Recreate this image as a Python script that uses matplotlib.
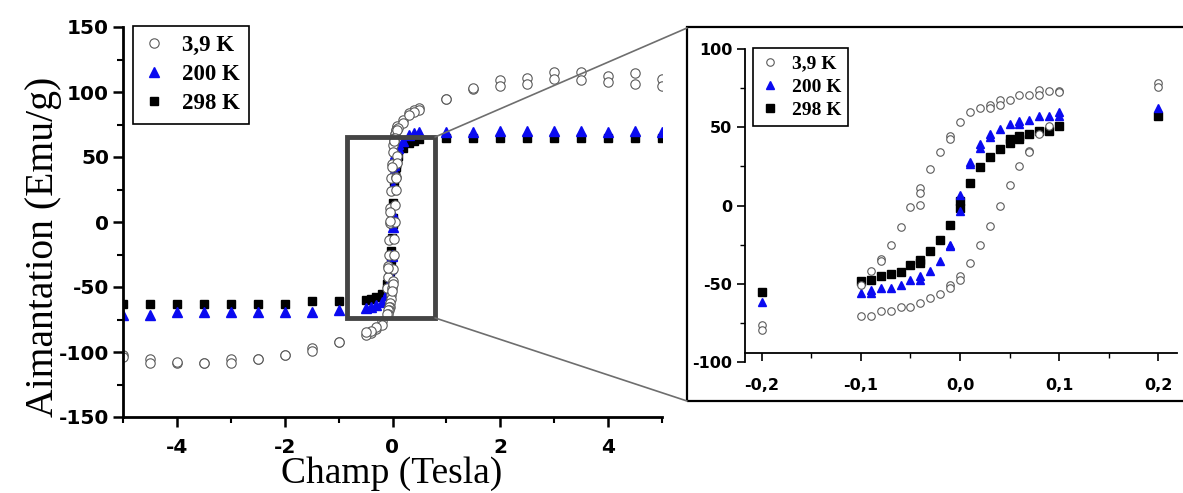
"""
Hysteresis loops M(H) at three temperatures, with a zoom on the low-field region.
"""
import matplotlib
matplotlib.use("Agg")
import matplotlib.pyplot as plt
from matplotlib.patches import Rectangle, ConnectionPatch
from matplotlib.ticker import MultipleLocator, FuncFormatter


# field sweep (Tesla), shared by all the loops
FIELD = [5, 4.5, 4, 3.5, 3, 2.5, 2, 1.5, 1, 0.5, 0.4, 0.3, 0.2,
         0.1, 0.09, 0.08, 0.07, 0.06, 0.05, 0.04, 0.03, 0.02, 0.01, 0.0,
         -0.01, -0.02, -0.03, -0.04, -0.05, -0.06, -0.07, -0.08, -0.09, -0.1,
         -0.2, -0.3, -0.4, -0.5, -1, -1.5, -2, -2.5, -3, -3.5, -4, -4.5, -5]

# 3,9 K : descending and ascending branches (emu/g)
M_39_DOWN = [110, 114.5, 112, 115.5, 115.5, 110.5, 109, 102.5, 94.5, 87.5, 86, 84, 78.5,
             73, 73, 73.5, 70.5, 70.5, 67.5, 67.5, 64.5, 62, 59.5, 53.5,
             44.5, 34, 23.5, 11, -1, -14, -25, -34, -42, -50.5,
             -76.5, -82, -85, -87, -92, -97, -102, -105.5, -105, -108.5, -108.5, -105, -102]
M_39_UP = [105, 106, 108, 109, 110, 106, 104.5, 103, 95, 86, 85, 82, 76,
           72.5, 50.5, 45.5, 35, 25, 12.8, 0, -12.8, -25, -36.5, -45,
           -50.5, -56.5, -59, -62, -65, -65, -67.5, -67.5, -70.5, -70.5,
           -79.5, -81, -84, -84.5, -92.5, -99.5, -102.5, -105, -108.5, -108.5, -108, -108.5, -104]
H_39_EXTRA = [0.08, 0.04, 0.03, -0.01, -0.04, -0.04, -0.08, 0.0, -0.01, 0.07]
M_39_EXTRA = [70.5, 64.5, 62, 42.5, 8, 0.6, -35.7, -47.4, -53, 34]

# 200 K
M_200 = [69, 70, 69.5, 70, 70, 70, 70, 69.5, 69, 69, 68.5, 67, 62.5,
         59.8, 57.2, 57.2, 54.5, 54, 52, 49, 45.5, 39, 28, 6.4,
         -25, -35.7, -41.7, -45, -47.4, -50.6, -52.8, -52.8, -53.8, -56,
         -61.5, -64, -65, -66, -68, -69, -69, -69, -69, -69, -69, -71.5, -71.5]
H_200_EXTRA = [0.1, 0.06, 0.03, 0.02, 0.01, 0.0, -0.01, -0.04, -0.09]
M_200_EXTRA = [57.2, 52, 43.5, 37, 26.3, -3.6, -26, -47.4, -56]

# 298 K
M_298 = [64.5, 64.5, 64.5, 64.5, 64.5, 64.5, 64.5, 64.5, 64.5, 63.5, 62.5, 61, 57,
         50.8, 47.6, 47.6, 45.5, 44.4, 42.3, 36.3, 31.2, 24.6, 14.6, 2.8,
         -12.2, -22, -29.3, -34.6, -37.8, -42.7, -43.6, -44.9, -47.4, -48,
         -55, -57.5, -59, -60, -61, -61, -63, -63, -63, -63, -63, -63, -63]
H_298_EXTRA = [0.06, 0.05, 0.0, -0.04]
M_298_EXTRA = [42.3, 39.7, -1.3, -36.7]

LABELS = ["3,9 K", "200 K", "298 K"]

# zoomed region drawn on the main plot
ZOOM_X = (-0.84, 0.79)
ZOOM_Y = (-73.8, 65.4)

W, H = 1183, 493


def draw(ax, ms):
    lines = {}
    lines["298 K"], = ax.plot(FIELD + H_298_EXTRA, M_298 + M_298_EXTRA, ls="none",
                              marker="s", ms=ms * 0.85, color="black", mec="black")
    lines["200 K"], = ax.plot(FIELD + H_200_EXTRA, M_200 + M_200_EXTRA, ls="none",
                              marker="^", ms=ms, color="#0a0af0", mec="#0a0af0")
    lines["3,9 K"], = ax.plot(FIELD + FIELD + H_39_EXTRA, M_39_DOWN + M_39_UP + M_39_EXTRA,
                              ls="none", marker="o", ms=ms * 0.9, mfc="white",
                              mec="#5a5a5a", mew=0.8)
    return [lines[k] for k in LABELS]


def comma(v, pos):
    return f"{round(v, 1) + 0.0:.1f}".replace(".", ",")


def boxed_legend(fig, handles, anchor, size, **kwargs):
    leg = fig.legend(handles, LABELS, loc="upper left",
                     bbox_to_anchor=anchor, bbox_transform=fig.transFigure,
                     prop={"family": "Liberation Serif", "weight": "bold", "size": size},
                     frameon=True, fancybox=False, edgecolor="black", framealpha=1,
                     borderaxespad=0, handlelength=1.0, **kwargs)
    leg.get_frame().set_linewidth(1.2)
    return leg


if __name__ == "__main__":
    plt.rcParams["axes.unicode_minus"] = False
    plt.rcParams["font.family"] = "DejaVu Sans"
    plt.rcParams["font.weight"] = "bold"

    fig = plt.figure(figsize=(W / 100, H / 100), dpi=100)

    # main plot
    ax = fig.add_axes([123 / W, 1 - 417 / H, (662 - 123) / W, (417 - 27) / H])
    handles = draw(ax, 7.5)
    ax.set_xlim(-5, 5)
    ax.set_ylim(-150, 150)
    for side in ("top", "right"):
        ax.spines[side].set_visible(False)
    for side in ("left", "bottom"):
        ax.spines[side].set_linewidth(2)
    ax.xaxis.set_major_locator(MultipleLocator(2))
    ax.xaxis.set_minor_locator(MultipleLocator(1))
    ax.yaxis.set_major_locator(MultipleLocator(50))
    ax.yaxis.set_minor_locator(MultipleLocator(25))
    ax.tick_params(which="major", direction="out", length=7, width=1.8, labelsize=14.5)
    ax.tick_params(which="minor", direction="out", length=4, width=1.5)
    ax.tick_params(axis="x", pad=8)
    ax.tick_params(axis="y", pad=3)

    ax.add_patch(Rectangle((ZOOM_X[0], ZOOM_Y[0]), ZOOM_X[1] - ZOOM_X[0],
                           ZOOM_Y[1] - ZOOM_Y[0], fill=False, ec="#454545",
                           lw=3.5, zorder=5))

    fig.text(44 / W, 1 - 247 / H, "Aimantation (Emu/g)", rotation=90,
             ha="center", va="center", family="Liberation Serif",
             fontweight="normal", fontsize=28.5)
    fig.text(392 / W, 1 - 474 / H, "Champ (Tesla)", ha="center", va="center",
             family="Liberation Serif", fontweight="normal", fontsize=27)

    boxed_legend(fig, handles, (133 / W, 1 - 26 / H), 16.5,
                 borderpad=0.4, handletextpad=0.75, labelspacing=0.35)

    # inset
    axin = fig.add_axes([745 / W, 1 - 362 / H, (1177 - 745) / W, (362 - 49) / H])
    in_handles = draw(axin, 6)
    axin.set_xlim(-0.217, 0.219)
    axin.set_ylim(-100, 100)
    for side in ("top", "right"):
        axin.spines[side].set_visible(False)
    for side in ("left", "bottom"):
        axin.spines[side].set_linewidth(1.3)
    axin.spines["bottom"].set_position(("data", -94.5))
    axin.xaxis.set_major_locator(MultipleLocator(0.1))
    axin.xaxis.set_minor_locator(MultipleLocator(0.05))
    axin.xaxis.set_major_formatter(FuncFormatter(comma))
    axin.yaxis.set_major_locator(MultipleLocator(50))
    axin.yaxis.set_minor_locator(MultipleLocator(25))
    axin.tick_params(which="major", direction="out", length=6, width=1.2, labelsize=11.5)
    axin.tick_params(which="minor", direction="out", length=3.5, width=1.0)
    axin.tick_params(axis="x", pad=12)
    axin.tick_params(axis="y", pad=3)

    boxed_legend(fig, in_handles, (753 / W, 1 - 48 / H), 14,
                 borderpad=0.35, handletextpad=0.65, labelspacing=0.3)

    # frame around the inset and the two connector lines
    fig.add_artist(Rectangle((687 / W, 1 - 401 / H), 0.5, (401 - 27) / H,
                             transform=fig.transFigure, fill=False, ec="black", lw=1.6))
    for y_box, y_fig in ((ZOOM_Y[1], 1 - 28 / H), (ZOOM_Y[0], 1 - 401 / H)):
        fig.add_artist(ConnectionPatch(xyA=(ZOOM_X[1], y_box), coordsA=ax.transData,
                                       xyB=(687 / W, y_fig), coordsB=fig.transFigure,
                                       color="#6e6e6e", lw=1.2))

    fig.savefig("out.png", dpi=100)
